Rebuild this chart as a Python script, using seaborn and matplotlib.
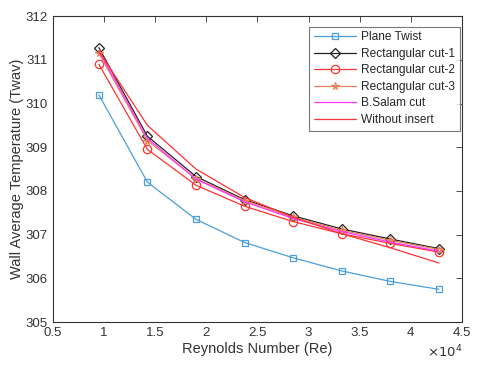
import numpy as np
import matplotlib
matplotlib.use('Agg')
import matplotlib.pyplot as plt
import matplotlib.ticker as mticker
import pandas as pd
import seaborn as sns

sns.set_style("white")
plt.rcParams['font.family'] = ['Liberation Sans', 'DejaVu Sans']

# Reynolds numbers
re = [9500, 14250, 19000, 23750, 28500, 33250, 38000, 42750]

plane_twist = [310.20, 308.20, 307.35, 306.82, 306.47, 306.17, 305.93, 305.75]
rect_cut1 = [311.28, 309.25, 308.33, 307.80, 307.43, 307.13, 306.90, 306.68]
rect_cut2 = [310.90, 308.95, 308.13, 307.65, 307.30, 307.02, 306.80, 306.60]
rect_cut3 = [311.15, 309.15, 308.28, 307.78, 307.40, 307.10, 306.87, 306.66]
salam_cut = [311.20, 309.20, 308.27, 307.75, 307.37, 307.07, 306.83, 306.62]
without_insert = [311.20, 309.50, 308.50, 307.85, 307.40, 307.02, 306.70, 306.35]

names = ['Plane Twist', 'Rectangular cut-1', 'Rectangular cut-2',
         'Rectangular cut-3', 'B.Salam cut', 'Without insert']
series = [plane_twist, rect_cut1, rect_cut2, rect_cut3, salam_cut, without_insert]
colors = ['#4A9FDB', '#222222', '#FF3333', '#E8825A', '#FF33FF', '#FF3333']
markers = ['s', 'D', 'o', '*', '', '']
msizes = [4.5, 5, 6, 5.5, 0, 0]

rows = []
for n, vals in zip(names, series):
    for x, y in zip(re, vals):
        rows.append([n, x, y])
df = pd.DataFrame(rows, columns=['Case', 'Re', 'T'])

fig = plt.figure(figsize=(4.8, 3.66), dpi=100)
ax = fig.add_axes([0.110, 0.120, 0.8525, 0.836])

for n, c, m, ms in zip(names, colors, markers, msizes):
    sub = df[df.Case == n]
    sns.lineplot(data=sub, x='Re', y='T', ax=ax, color=c, marker=m if m else None,
                 markersize=ms, markerfacecolor='none', markeredgecolor=c,
                 markeredgewidth=0.9, linewidth=0.9, label=n)

ax.set_xlim(5000, 45000)
ax.set_ylim(305, 312)
ax.set_xticks(np.arange(5000, 45001, 5000))
ax.set_yticks(np.arange(305, 312.1, 1))
ax.xaxis.set_major_formatter(mticker.FuncFormatter(lambda v, p: f'{v / 1e4:g}'))
ax.yaxis.set_major_formatter(mticker.FuncFormatter(lambda v, p: f'{v:g}'))
ax.tick_params(direction='in', length=4, width=0.6, labelsize=9.5, colors='#333333',
               top=True, right=True)
ax.text(1.0, -0.07, r'$\times10^{4}$', transform=ax.transAxes, ha='right', va='top',
        fontsize=9.5, color='#333333')
for s in ax.spines.values():
    s.set_linewidth(0.8)
    s.set_color('#333333')

ax.set_xlabel('Reynolds Number (Re)', fontsize=10.5, color='#333333', labelpad=2)
ax.set_ylabel('Wall Average Temperature (Twav)', fontsize=10.5, color='#333333', labelpad=1)

leg = ax.legend(loc='upper right', bbox_to_anchor=(0.995, 0.966), fontsize=8.6,
                frameon=True, fancybox=False, edgecolor='#555555',
                handlelength=3.5, borderpad=0.4, labelspacing=0.38, handletextpad=0.45,
                borderaxespad=0.0)
leg.get_frame().set_linewidth(0.8)

fig.savefig('out.png', dpi=100)
